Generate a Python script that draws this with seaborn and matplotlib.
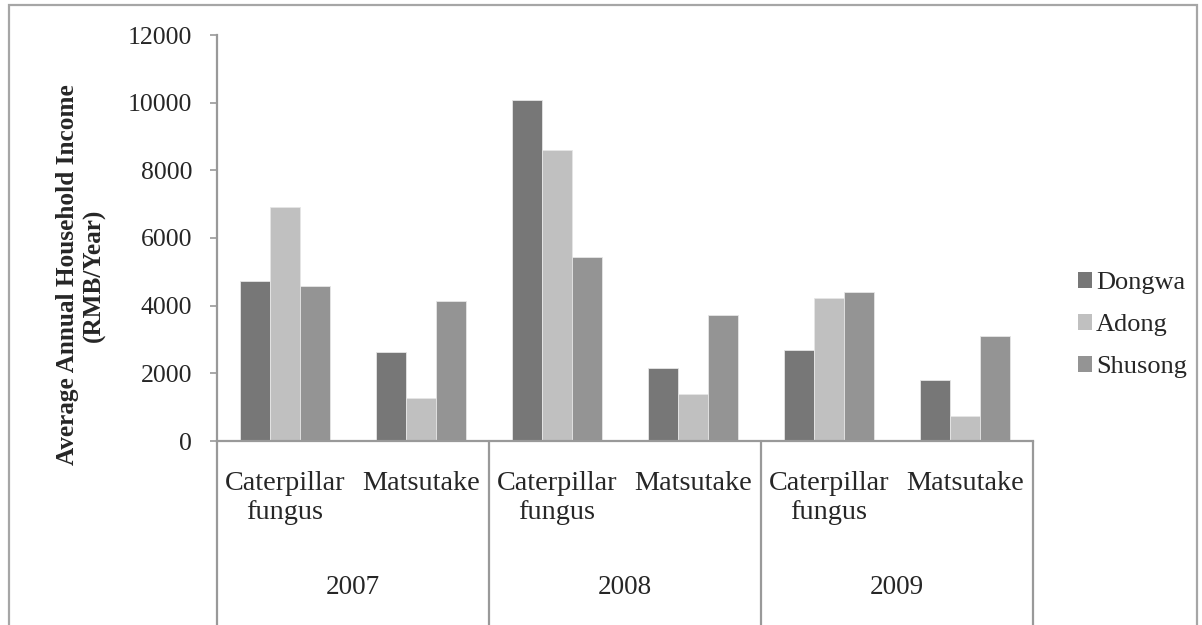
import numpy as np
import pandas as pd
import seaborn as sns
import matplotlib.pyplot as plt
from matplotlib.patches import Rectangle
from matplotlib.transforms import blended_transform_factory

years = ['2007', '2008', '2009']
products = ['Caterpillar\nfungus', 'Matsutake']
villages = ['Dongwa', 'Adong', 'Shusong']

# income per (year, product), one list per village
dongwa = [4725, 2633, 10071, 2151, 2683, 1816]
adong = [6923, 1272, 8609, 1382, 4222, 740]
shusong = [4586, 4133, 5435, 3710, 4400, 3118]

colors = ['#777777', '#c0c0c0', '#949494']

groups = [f'{y}|{p}' for y in years for p in products]
df = pd.DataFrame({'group': groups * 3,
                   'village': np.repeat(villages, len(groups)),
                   'income': dongwa + adong + shusong})

sns.set_style('white')
plt.rcParams['font.family'] = ['Liberation Serif', 'DejaVu Serif']

W, H = 1202, 625
fig = plt.figure(figsize=(W / 100, H / 100), dpi=100)
# axes box in pixels: left 217, right 1033, baseline 441, top 35
ax = fig.add_axes([217 / W, 1 - 441 / H, 816 / W, 406 / H])

sns.barplot(data=df, x='group', y='income', hue='village', order=groups,
            hue_order=villages, palette=colors, width=0.66, saturation=1,
            edgecolor='#e6e6e6', linewidth=0.6, ax=ax)

ax.set_xlim(-0.5, len(groups) - 0.5)
ax.set_ylim(0, 12000)
ax.set_yticks(range(0, 12001, 2000))
ax.tick_params(axis='y', labelsize=18.5, length=5, width=1.2, color='#999999',
               pad=13, direction='out', left=True)
ax.tick_params(axis='x', bottom=False, labelbottom=False)
ax.set_xlabel('')
ax.set_ylabel('')
for s in ['top', 'right']:
    ax.spines[s].set_visible(False)
for s in ['left', 'bottom']:
    ax.spines[s].set_color('#999999')
    ax.spines[s].set_linewidth(1.6)

# multi-level category axis under the bars
tr = blended_transform_factory(ax.transData, ax.transAxes)
y_bot = -(H - 441) / 406
ax.plot([-0.5, -0.5], [0, y_bot], transform=tr, color='#999999', lw=1.6, clip_on=False)
for i in range(len(years)):
    xr = 2 * i + 1.5
    ax.plot([xr, xr], [0, y_bot], transform=tr, color='#999999', lw=1.6, clip_on=False)
    ax.text(2 * i + 0.5, -(587 - 441) / 406, years[i], transform=tr,
            ha='center', va='center', fontsize=19.5)
for j, g in enumerate(groups):
    ax.text(j, -(471 - 441) / 406, g.split('|')[1], transform=tr, ha='center',
            va='top', multialignment='center', fontsize=20.3, linespacing=1.2)

fig.text(81 / W, 1 - 275 / H, 'Average Annual Household Income\n(RMB/Year)',
         rotation=90, ha='center', va='center', multialignment='center',
         fontsize=18.2, fontweight='bold', linespacing=1.15)

leg = ax.legend(loc='center left', bbox_to_anchor=(1067 / W, 1 - 325 / H),
                bbox_transform=fig.transFigure, frameon=False, fontsize=19,
                handlelength=0.55, handleheight=0.55, handletextpad=0.15,
                labelspacing=0.75, borderaxespad=0)
for h in leg.legend_handles:
    h.set_edgecolor('none')

# chart area border
fig.patches.append(Rectangle((9 / W, -0.01), 1188 / W, 1 - 5 / H + 0.01,
                             transform=fig.transFigure, fill=False,
                             edgecolor='#a6a6a6', lw=1.6))

fig.savefig('out.png', dpi=100, facecolor='white')
